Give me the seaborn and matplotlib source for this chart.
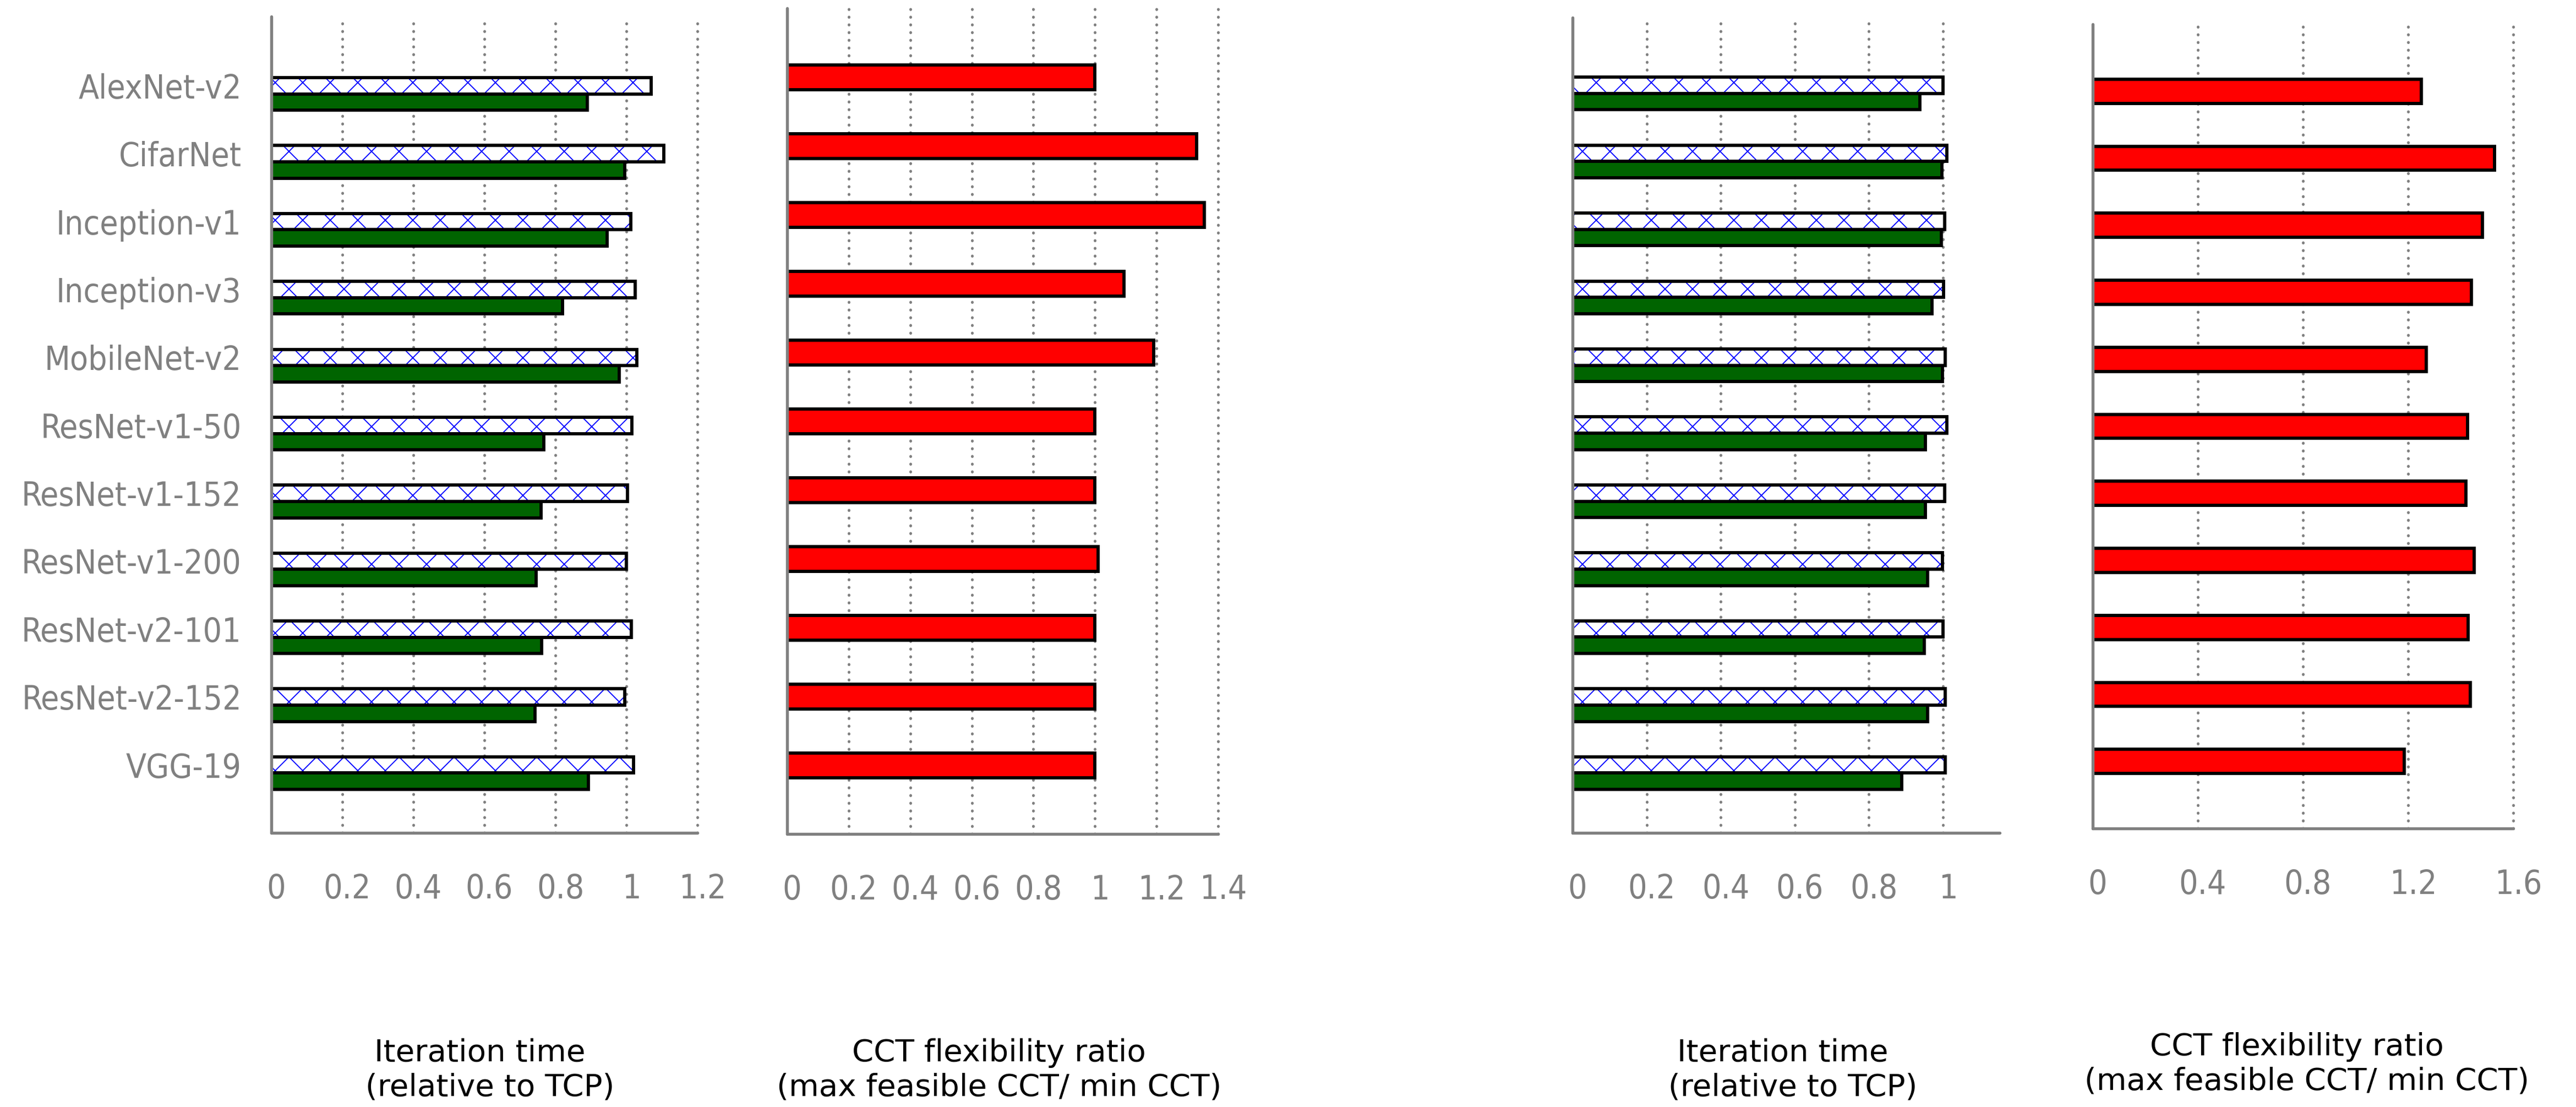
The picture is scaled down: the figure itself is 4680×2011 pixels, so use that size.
import numpy as np
import pandas as pd
import seaborn as sns
import matplotlib
matplotlib.use("Agg")
import matplotlib.pyplot as plt
import matplotlib.colors as mcolors
from matplotlib import font_manager
from matplotlib.transforms import ScaledTranslation

models = ["AlexNet-v2", "CifarNet", "Inception-v1", "Inception-v3", "MobileNet-v2",
          "ResNet-v1-50", "ResNet-v1-152", "ResNet-v1-200", "ResNet-v2-101",
          "ResNet-v2-152", "VGG-19"]

# left pair of panels
left_hatch = [1.07, 1.105, 1.013, 1.025, 1.03, 1.015, 1.003, 1.0, 1.014, 0.995, 1.02]
left_green = [0.89, 0.995, 0.945, 0.82, 0.98, 0.768, 0.76, 0.745, 0.762, 0.742, 0.893]
left_cct = [1.0, 1.33, 1.355, 1.095, 1.19, 1.0, 1.0, 1.01, 1.0, 1.0, 1.0]

# right pair of panels
right_hatch = [1.0, 1.01, 1.004, 1.002, 1.006, 1.01, 1.004, 0.999, 1.0, 1.006, 1.006]
right_green = [0.938, 0.997, 0.995, 0.97, 0.999, 0.952, 0.953, 0.958, 0.95, 0.958, 0.888]
right_cct = [1.25, 1.528, 1.483, 1.441, 1.27, 1.427, 1.419, 1.452, 1.428, 1.436, 1.186]

iter_label = "Iteration time\n  (relative to TCP)"
cct_label = "CCT flexibility ratio\n(max feasible CCT/ min CCT)"

sns.set_style("white")
plt.rcParams["font.family"] = ["DejaVu Sans"]
plt.rcParams["hatch.linewidth"] = 0.45

GREY = "#808080"

# tick labels in the reference are narrow: use the condensed face if present
cond = font_manager.FontProperties(family="DejaVu Sans", stretch="condensed")
if "ondensed" in font_manager.findfont(cond, fallback_to_default=True):
    tick_font = dict(size=14.5, stretch="condensed")
else:
    tick_font = dict(size=13.4)

fig = plt.figure(figsize=(15.6, 2011 / 300), dpi=300)


def iter_panel(ax, hatch_vals, green_vals):
    df = pd.DataFrame({"model": models * 2,
                       "value": hatch_vals + green_vals,
                       "kind": ["h"] * len(models) + ["g"] * len(models)})
    sns.barplot(data=df, x="value", y="model", hue="kind", orient="h",
                palette={"h": "white", "g": "#006400"}, width=0.48, saturation=1,
                edgecolor="black", linewidth=1.4, errorbar=None, legend=False, ax=ax)
    for p in ax.containers[0]:
        p.set_hatch("xx")
        if hasattr(p, "set_hatchcolor"):
            p.set_hatchcolor("blue")
        else:
            p._hatch_color = mcolors.to_rgba("blue")


def cct_panel(ax, vals):
    sns.barplot(x=vals, y=models, orient="h", color="red", width=0.36, saturation=1,
                edgecolor="black", linewidth=1.4, errorbar=None, ax=ax)


def style(ax, xmax, ticks, inward, ylim, ypos, show_names, label, lx, ly):
    ax.set_xlim(0, xmax)
    ax.set_xticks(ticks)
    ax.set_xticklabels([f"{t:g}" for t in ticks], **tick_font)
    ax.set_yticks(ypos)
    ax.set_yticklabels(models, **tick_font)
    ax.set_ylim(*ylim)
    for s in ["top", "right"]:
        ax.spines[s].set_visible(False)
    for s in ["left", "bottom"]:
        ax.spines[s].set_color(GREY)
        ax.spines[s].set_linewidth(1.3)
        ax.spines[s].set_capstyle("round")
    ax.tick_params(axis="x", direction="in", length=10 if inward else 0, width=1.3,
                   color=GREY, labelcolor=GREY, pad=17.5)
    ax.tick_params(axis="y", length=0, labelcolor=GREY, pad=13, labelleft=show_names)
    ax.set_axisbelow(True)
    ax.xaxis.grid(True, color=GREY, linewidth=1.2, linestyle=(0, (0.1, 2.7)),
                  dash_capstyle="round")
    ax.yaxis.grid(False)
    for g in ax.xaxis.get_gridlines():
        g.set_clip_on(False)
    ax.set_ylabel("")
    ax.set_xlabel(label, fontsize=13.5, color="black")
    ax.xaxis.set_label_coords(lx, ly)
    shift = ScaledTranslation(9 / 300, 0, fig.dpi_scale_trans)
    for lab in ax.get_xticklabels():
        lab.set_transform(lab.get_transform() + shift)


n = len(models)
ax1 = fig.add_axes([0.10534, 0.24764, 0.16539, 0.73744])
iter_panel(ax1, left_hatch, left_green)
style(ax1, 1.2, [0, 0.2, 0.4, 0.6, 0.8, 1.0, 1.2], False, (10.88, -1.14),
      np.arange(n) - 0.12, True, iter_label, 0.4897, -0.2515)

ax2 = fig.add_axes([0.30556, 0.24664, 0.16730, 0.74590])
cct_panel(ax2, left_cct)
style(ax2, 1.4, [0, 0.2, 0.4, 0.6, 0.8, 1.0, 1.2, 1.4], True, (11.0, -1.0),
      np.arange(n), False, cct_label, 0.4917, -0.2473)

ax3 = fig.add_axes([0.61047, 0.24764, 0.16581, 0.73665])
iter_panel(ax3, right_hatch, right_green)
style(ax3, 1.153, [0, 0.2, 0.4, 0.6, 0.8, 1.0], False, (10.88, -1.12),
      np.arange(n) - 0.12, False, iter_label, 0.492, -0.2519)

ax4 = fig.add_axes([0.81239, 0.25162, 0.16325, 0.72650])
cct_panel(ax4, right_cct)
style(ax4, 1.6, [0, 0.4, 0.8, 1.2, 1.6], True, (11.0, -1.0),
      np.arange(n), False, "CCT flexibility ratio\n  (max feasible CCT/ min CCT)",
      0.4856, -0.2533)

fig.savefig("out.png", dpi=300)
